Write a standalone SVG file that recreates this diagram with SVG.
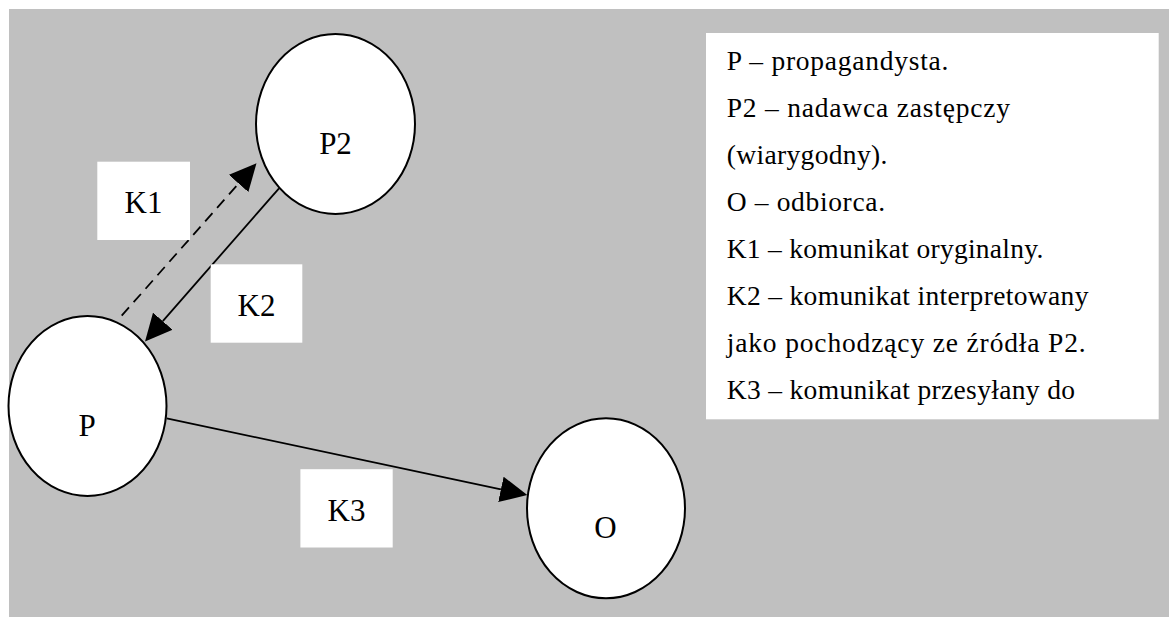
<svg xmlns="http://www.w3.org/2000/svg" width="1169" height="617" viewBox="0 0 1169 617">
<style>
.bg{fill:#c0c0c0}
.node{fill:#ffffff;stroke:#000000;stroke-width:2}
.lbl{fill:#ffffff}
.t{font-family:"Liberation Serif","Times New Roman",serif;font-size:31px;fill:#000000;text-anchor:middle}
.leg{font-family:"Liberation Serif","Times New Roman",serif;font-size:27.5px;fill:#000000}
.edge{fill:none;stroke:#000000;stroke-width:1.8}
.dash{stroke-dasharray:11 7}
</style>
<defs>
<marker id="arr" markerUnits="userSpaceOnUse" markerWidth="28" markerHeight="26" refX="0" refY="13" orient="auto" viewBox="0 0 28 26">
<path d="M0,0 L27,13 L0,26 Z" fill="#000000" stroke="none"/>
</marker>
</defs>
<rect class="bg" x="9" y="9" width="1160" height="608"/>
<g id="connectors">
<line class="edge dash" x1="121.7" y1="315.7" x2="238.6" y2="183.5" marker-end="url(#arr)"/>
<line class="edge" x1="279" y1="188.3" x2="162.8" y2="321.2" marker-end="url(#arr)"/>
<line class="edge" x1="166.7" y1="418.3" x2="500.9" y2="489.4" marker-end="url(#arr)"/>
</g>
<g id="node-P2">
<ellipse class="node" cx="335.5" cy="124" rx="79.5" ry="90"/>
<text class="t" x="335.5" y="154">P2</text>
</g>
<g id="node-P">
<ellipse class="node" cx="87.5" cy="406" rx="79" ry="90"/>
<text class="t" x="87" y="436">P</text>
</g>
<g id="node-O">
<ellipse class="node" cx="606" cy="508.3" rx="79" ry="90"/>
<text class="t" x="605.5" y="538">O</text>
</g>
<g id="label-K1">
<rect class="lbl" x="97.3" y="161.7" width="92.7" height="78.3"/>
<text class="t" x="143.5" y="213.3">K1</text>
</g>
<g id="label-K2">
<rect class="lbl" x="210.7" y="264.3" width="91.6" height="78.4"/>
<text class="t" x="256.5" y="315.7">K2</text>
</g>
<g id="label-K3">
<rect class="lbl" x="300.4" y="469.2" width="92.3" height="78.3"/>
<text class="t" x="346.5" y="520.7">K3</text>
</g>
<g id="legend">
<rect class="lbl" x="706" y="33" width="452.7" height="386.3"/>
<text class="leg" x="726.7" y="70" textLength="221.7" lengthAdjust="spacing">P – propagandysta.</text>
<text class="leg" x="726.7" y="117" textLength="283.3" lengthAdjust="spacing">P2 – nadawca zastępczy</text>
<text class="leg" x="726.7" y="164" textLength="160.7" lengthAdjust="spacing">(wiarygodny).</text>
<text class="leg" x="726.7" y="211" textLength="158.3" lengthAdjust="spacing">O – odbiorca.</text>
<text class="leg" x="726.7" y="258" textLength="316.7" lengthAdjust="spacing">K1 – komunikat oryginalny.</text>
<text class="leg" x="726.7" y="305" textLength="361.7" lengthAdjust="spacing">K2 – komunikat interpretowany</text>
<text class="leg" x="726.7" y="352" textLength="359" lengthAdjust="spacing">jako pochodzący ze źródła P2.</text>
<text class="leg" x="726.7" y="398.5" textLength="348.3" lengthAdjust="spacing">K3 – komunikat przesyłany do</text>
</g>
</svg>
